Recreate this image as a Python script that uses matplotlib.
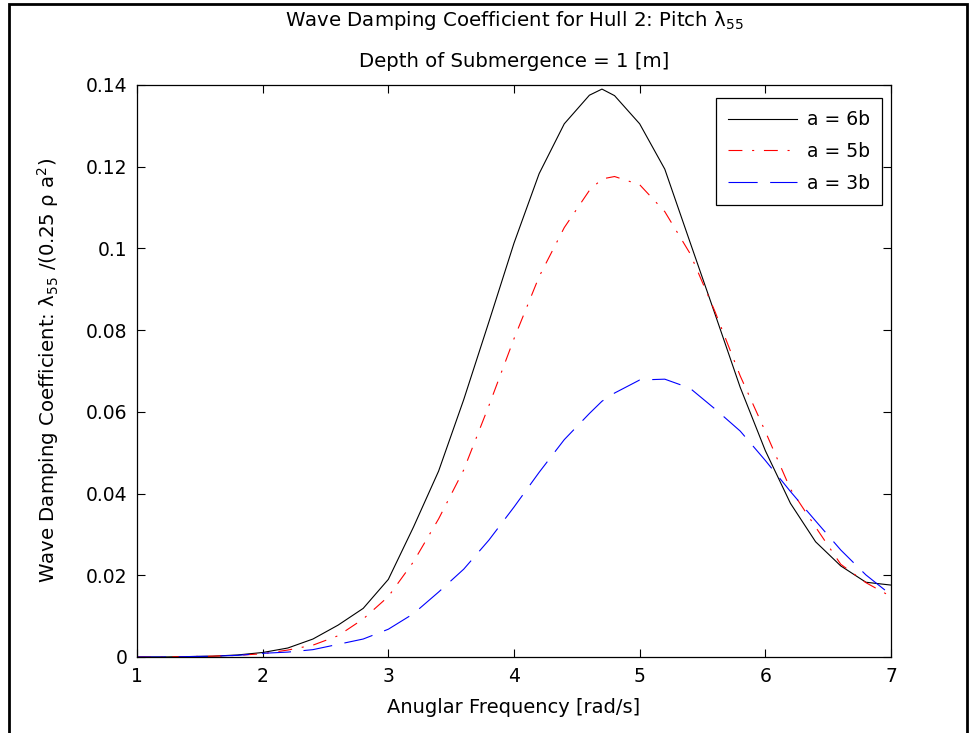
import matplotlib
matplotlib.use("Agg")
import matplotlib.pyplot as plt
from matplotlib.patches import Rectangle

# Data
freq = [1.0, 1.2, 1.4, 1.6, 1.8, 2.0, 2.2, 2.4, 2.6, 2.8, 3.0, 3.2, 3.4, 3.6, 3.8,
        4.0, 4.2, 4.4, 4.6, 4.7, 4.8, 5.0, 5.2, 5.4, 5.6, 5.8, 6.0, 6.2, 6.4, 6.6, 6.8, 7.0]

a6b = [0.0, 0.0, 0.0001, 0.0002, 0.0005, 0.0011, 0.0022, 0.0044, 0.0078, 0.0119,
       0.019, 0.0318, 0.0455, 0.063, 0.082, 0.1013, 0.1183, 0.1305, 0.1375, 0.139,
       0.1374, 0.1305, 0.1194, 0.1016, 0.0839, 0.066, 0.0505, 0.0376, 0.0282, 0.0223,
       0.0183, 0.0176]

a5b = [0.0, 0.0, 0.0001, 0.0002, 0.0004, 0.0008, 0.0017, 0.0029, 0.0052, 0.0093,
       0.0148, 0.0233, 0.0338, 0.0458, 0.0615, 0.0779, 0.0931, 0.1051, 0.1142, 0.1170,
       0.1176, 0.1156, 0.109, 0.0988, 0.0845, 0.0688, 0.0552, 0.0411, 0.0318, 0.0227,
       0.0182, 0.0148]

a3b = [0.0, 0.0, 0.0001, 0.0002, 0.0004, 0.0009, 0.0012, 0.0018, 0.0031, 0.0044,
       0.0068, 0.0106, 0.0159, 0.0215, 0.0286, 0.0367, 0.0452, 0.0532, 0.0596, 0.0626,
       0.0646, 0.0678, 0.0680, 0.0658, 0.0607, 0.0553, 0.0481, 0.0405, 0.0333, 0.0262,
       0.0201, 0.0152]

xticks = [1, 2, 3, 4, 5, 6, 7]
yticks = [0, 0.02, 0.04, 0.06, 0.08, 0.1, 0.12, 0.14]
ytick_labels = ["0", "0.02", "0.04", "0.06", "0.08", "0.1", "0.12", "0.14"]

plt.rcParams['font.family'] = ['DejaVu Sans']
plt.rcParams['mathtext.fontset'] = 'dejavusans'
plt.rcParams['mathtext.default'] = 'regular'
plt.rcParams['lines.scale_dashes'] = False

W, H = 973, 733
fig = plt.figure(figsize=(W / 100, H / 100), dpi=100)
ax = fig.add_axes([137 / W, 1 - 657 / H, (891 - 137) / W, (657 - 85) / H])

ax.plot(freq, a6b, color='k', lw=0.8, label='a = 6b')
ax.plot(freq, a5b, color='r', lw=0.8, dashes=(10, 7, 1.5, 7), label='a = 5b')
ax.plot(freq, a3b, color='b', lw=0.8, dashes=(21, 9), label='a = 3b')

ax.set_xlim(1, 7)
ax.set_ylim(0, 0.14)
ax.set_xticks(xticks)
ax.set_yticks(yticks)
ax.set_yticklabels(ytick_labels)
ax.tick_params(direction='in', length=6, width=0.8, top=True, right=True,
               labelsize=13.5, pad=7)
for s in ax.spines.values():
    s.set_linewidth(0.9)

# titles and labels
fig.text(514 / W, 1 - 26 / H, r'Wave Damping Coefficient for Hull 2: Pitch λ$_{55}$',
         ha='center', va='baseline', fontsize=14.2)
fig.text(514 / W, 1 - 67 / H, 'Depth of Submergence = 1 [m]',
         ha='center', va='baseline', fontsize=14.2)
fig.text(514 / W, 1 - 713 / H, 'Anuglar Frequency [rad/s]',
         ha='center', va='baseline', fontsize=14)
fig.text(48 / W, 1 - 370 / H, r'Wave Damping Coefficient: λ$_{55}$ /(0.25 ρ a$^2$)',
         ha='center', va='center', rotation=90, fontsize=14.2)

leg = ax.legend(loc='upper right', bbox_to_anchor=((882 - 137) / 754, (657 - 98) / 572),
                fontsize=13.5, fancybox=False, framealpha=1, edgecolor='k',
                handlelength=3.7, handletextpad=0.5, labelspacing=0.68,
                borderpad=0.65, borderaxespad=0)
leg.get_frame().set_linewidth(0.9)

# outer frame of the screenshot
fig.add_artist(Rectangle((9 / W, -0.1), (967 - 9) / W, 1.1 - 4 / H,
                         transform=fig.transFigure, fill=False, edgecolor='k', lw=2))

fig.savefig('out.png', dpi=100)
